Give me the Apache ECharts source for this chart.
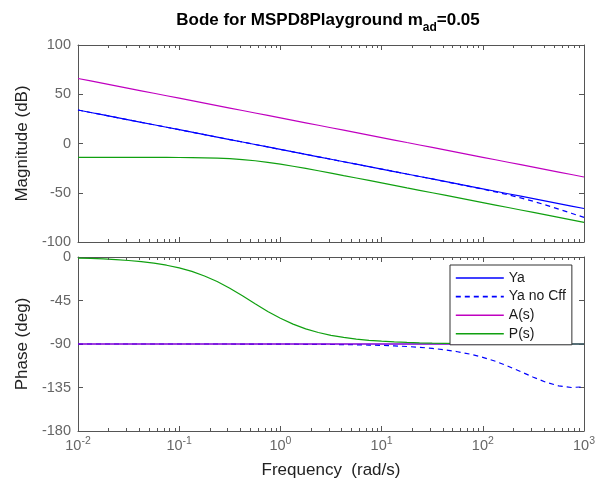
<!DOCTYPE html>
<html><head><meta charset="utf-8">
<script src="https://cdn.jsdelivr.net/npm/echarts@6/dist/echarts.min.js"></script>
<style>html,body{margin:0;padding:0;background:#fff}#c{width:608px;height:483px}</style>
</head><body><div id="c"></div>
<script>
// Frequency samples (rad/s), eighth-decade spacing
const freq = [0.01, 0.01334, 0.01778, 0.02371, 0.03162, 0.04217, 0.05623, 0.07499,
  0.1, 0.1334, 0.1778, 0.2371, 0.3162, 0.4217, 0.5623, 0.7499,
  1, 1.334, 1.778, 2.371, 3.162, 4.217, 5.623, 7.499,
  10, 13.34, 17.78, 23.71, 31.62, 42.17, 56.23, 74.99,
  100, 133.4, 177.8, 237.1, 316.2, 421.7, 562.3, 749.9, 1000];

// Magnitude (dB)
const magYa = [34, 31.5, 29, 26.5, 24, 21.5, 19, 16.5, 14, 11.5, 9, 6.5, 4, 1.5, -1, -3.5,
  -6, -8.5, -11, -13.5, -16, -18.5, -21, -23.5, -26, -28.5, -31, -33.5, -36, -38.5, -41, -43.5,
  -46, -48.5, -51, -53.5, -56, -58.5, -61, -63.5, -66];
const magYaNoCff = [34, 31.5, 29, 26.5, 24, 21.5, 19, 16.5, 14, 11.5, 9, 6.5, 4, 1.5, -1, -3.5,
  -6, -8.5, -11, -13.5, -16, -18.5, -21, -23.5, -26, -28.5, -31.0, -33.5, -36.0, -38.6, -41.1, -43.7,
  -46.4, -49.1, -52.1, -55.2, -58.7, -62.5, -66.6, -70.8, -75.0];
const magA = [66, 63.5, 61, 58.5, 56, 53.5, 51, 48.5, 46, 43.5, 41, 38.5, 36, 33.5, 31, 28.5,
  26, 23.5, 21, 18.5, 16, 13.5, 11, 8.5, 6, 3.5, 1, -1.5, -4, -6.5, -9, -11.5,
  -14, -16.5, -19, -21.5, -24, -26.5, -29, -31.5, -34];
const magP = [-14.0, -14.0, -14.0, -14.0, -14.0, -14.0, -14.0, -14.1, -14.2, -14.3, -14.5, -14.9, -15.4, -16.3, -17.5, -19.1,
  -21.0, -23.1, -25.3, -27.7, -30.1, -32.6, -35.0, -37.5, -40.0, -42.5, -45.0, -47.5, -50.0, -52.5, -55.0, -57.5,
  -60.0, -62.5, -65.0, -67.5, -70.0, -72.5, -75.0, -77.5, -80.0];

// Phase (deg)
const phYa = [-90, -90, -90, -90, -90, -90, -90, -90, -90, -90, -90, -90, -90, -90, -90, -90,
  -90, -90, -90, -90, -90, -90, -90, -90, -90, -90, -90, -90, -90, -90, -90, -90,
  -90, -90, -90, -90, -90, -90, -90, -90, -90];
const phYaNoCff = [-90.0, -90.0, -90.0, -90.0, -90.0, -90.0, -90.0, -90.0, -90.0, -90.0, -90.0, -90.0, -90.0, -90.1, -90.1, -90.1,
  -90.1, -90.2, -90.3, -90.3, -90.5, -90.6, -90.8, -91.1, -91.4, -91.9, -92.6, -93.4, -94.5, -96.0, -98.0, -100.5,
  -103.8, -107.9, -113.0, -118.6, -124.4, -129.6, -133.3, -135.0, -134.3];
const phA = [-90, -90, -90, -90, -90, -90, -90, -90, -90, -90, -90, -90, -90, -90, -90, -90,
  -90, -90, -90, -90, -90, -90, -90, -90, -90, -90, -90, -90, -90, -90, -90, -90,
  -90, -90, -90, -90, -90, -90, -90, -90, -90];
const phP = [-1.1, -1.5, -2.0, -2.7, -3.6, -4.8, -6.4, -8.5, -11.3, -14.9, -19.6, -25.4, -32.3, -40.2, -48.3, -56.3,
  -63.4, -69.4, -74.3, -78.1, -81.0, -83.2, -84.9, -86.2, -87.1, -87.8, -88.4, -88.8, -89.1, -89.3, -89.5, -89.6,
  -89.7, -89.8, -89.8, -89.9, -89.9, -89.9, -89.9, -90.0, -90.0];

// Axis ticks
const magTicks = [-100, -50, 0, 50, 100];
const phaseTicks = [-180, -135, -90, -45, 0];
const seriesNames = ['Ya', 'Ya no Cff', 'A(s)', 'P(s)'];
const seriesColors = ['#0000ff', '#0000ff', '#c000c0', '#10a010'];

const minorTicks = [];
for (let d = -2; d < 3; d++) for (let k = 2; k < 10; k++) minorTicks.push([+(k * Math.pow(10, d)).toPrecision(3), 0]);

const FONT = 'Liberation Sans, Arial, sans-serif';
const FRAME = '#555';
const LABEL = '#666';

function pairs(vals) { return freq.map((f, i) => [f, vals[i]]); }

function xAx(grid, pos, withLabels) {
  const o = {
    type: 'log', logBase: 10, gridIndex: grid, position: pos, min: 0.01, max: 1000,
    axisLine: { show: true, onZero: false, lineStyle: { color: FRAME, width: 1 } },
    axisTick: { show: true, inside: true, length: 5, lineStyle: { color: FRAME } },
    splitLine: { show: false }, minorTick: { show: false },
    axisLabel: { show: false }
  };
  if (withLabels) {
    o.axisLabel = {
      show: true, margin: 1, fontFamily: FONT,
      formatter: v => '{b|10}{s|' + Math.round(Math.log10(v)) + '}',
      rich: {
        b: { fontSize: 14.5, color: LABEL, fontFamily: FONT, lineHeight: 16, padding: [6, 0, 0, 0], verticalAlign: 'top' },
        s: { fontSize: 10.5, color: LABEL, fontFamily: FONT, lineHeight: 10, padding: [4, 0, 0, 0], verticalAlign: 'top' }
      }
    };
    o.name = 'Frequency  (rad/s)';
    o.nameLocation = 'middle';
    o.nameGap = 31;
    o.nameTextStyle = { fontSize: 17, color: '#222', fontFamily: FONT };
  }
  return o;
}

function yAx(grid, pos, min, max, interval, name) {
  const o = {
    type: 'value', gridIndex: grid, position: pos, min: min, max: max, interval: interval,
    axisLine: { show: true, onZero: false, lineStyle: { color: FRAME, width: 1 } },
    axisTick: { show: true, inside: true, length: 5, lineStyle: { color: FRAME } },
    splitLine: { show: false },
    axisLabel: { show: false }
  };
  if (name) {
    o.axisLabel = { show: true, fontSize: 14.5, color: LABEL, fontFamily: FONT, margin: 7 };
    o.name = name;
    o.nameLocation = 'middle';
    o.nameGap = 43;
    o.nameTextStyle = { fontSize: 17, color: '#222', fontFamily: FONT };
  }
  return o;
}

function tickSeries(xi, yi, lo, hi) {
  return {
    type: 'custom', xAxisIndex: xi, yAxisIndex: yi, silent: true, clip: false, z: 5,
    data: minorTicks,
    renderItem: function (params, api) {
      const x = api.value(0);
      const a = api.coord([x, lo]), b = api.coord([x, hi]);
      const px = Math.round(a[0]) + 0.5;
      return { type: 'group', children: [
        { type: 'line', shape: { x1: px, y1: a[1], x2: px, y2: a[1] - 3 }, style: { stroke: FRAME, lineWidth: 1 } },
        { type: 'line', shape: { x1: px, y1: b[1], x2: px, y2: b[1] + 3 }, style: { stroke: FRAME, lineWidth: 1 } }
      ] };
    }
  };
}

function lineSeries(name, idx, xi, yi, vals) {
  return {
    type: 'line', name: name, xAxisIndex: xi, yAxisIndex: yi,
    data: pairs(vals), symbol: 'none', showSymbol: false,
    smooth: false, animation: false,
    lineStyle: { color: seriesColors[idx], width: 1.2, type: idx === 1 ? [5, 4] : 'solid' },
    itemStyle: { color: seriesColors[idx] }
  };
}

const magData = [magYa, magYaNoCff, magA, magP];
const phData = [phYa, phYaNoCff, phA, phP];
const series = [];
seriesNames.forEach((n, i) => series.push(lineSeries(n, i, 0, 0, magData[i])));
seriesNames.forEach((n, i) => series.push(lineSeries(n, i, 2, 2, phData[i])));
series.push(tickSeries(0, 0, magTicks[0], magTicks[magTicks.length - 1]));
series.push(tickSeries(2, 2, phaseTicks[0], phaseTicks[phaseTicks.length - 1]));

const chart = echarts.init(document.getElementById('c'), null, { renderer: 'canvas' });
chart.setOption({
  animation: false,
  backgroundColor: '#fff',
  title: {
    text: '{t|Bode for MSPD8Playground m}{s|ad}{t|=0.05}',
    left: 328, top: 12, textAlign: 'center', padding: 0,
    textStyle: {
      rich: {
        t: { fontSize: 17, fontWeight: 'bold', color: '#000', fontFamily: FONT, lineHeight: 18, verticalAlign: 'top' },
        s: { fontSize: 12, fontWeight: 'bold', color: '#000', fontFamily: FONT, lineHeight: 12, padding: [10, 0, 0, 0], verticalAlign: 'top' }
      }
    }
  },
  legend: {
    data: seriesNames, orient: 'vertical', left: 450, top: 265,
    itemWidth: 48, itemHeight: 14, itemGap: 4.6,
    padding: [6, 6, 4, 5],
    backgroundColor: '#fff', borderColor: '#333', borderWidth: 1, borderRadius: 0,
    itemStyle: { opacity: 0 },
    lineStyle: { width: 1.6 },
    textStyle: { fontSize: 14, color: '#1a1a1a', fontFamily: FONT, lineHeight: 14 },
    selectedMode: false
  },
  grid: [
    { left: 78, top: 45, width: 506, height: 197, containLabel: false },
    { left: 78, top: 257, width: 506, height: 174, containLabel: false }
  ],
  xAxis: [xAx(0, 'bottom', false), xAx(0, 'top', false), xAx(1, 'bottom', true), xAx(1, 'top', false)],
  yAxis: [
    yAx(0, 'left', magTicks[0], magTicks[magTicks.length - 1], 50, 'Magnitude (dB)'),
    yAx(0, 'right', magTicks[0], magTicks[magTicks.length - 1], 50, null),
    yAx(1, 'left', phaseTicks[0], phaseTicks[phaseTicks.length - 1], 45, 'Phase (deg)'),
    yAx(1, 'right', phaseTicks[0], phaseTicks[phaseTicks.length - 1], 45, null)
  ],
  series: series
});
</script>
</body></html>
